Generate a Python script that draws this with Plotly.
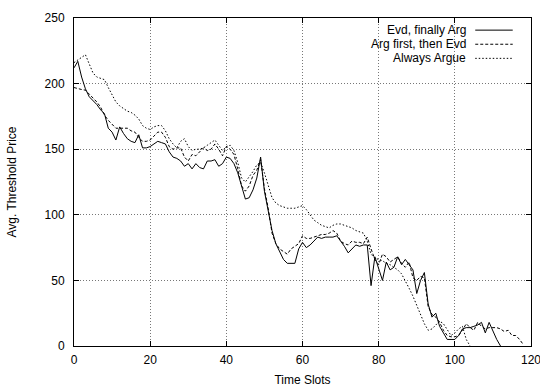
import plotly.graph_objects as go

# Average threshold price per time slot for three negotiation strategies
evd_x = list(range(0, 113))
evd_y = [212, 217, 205, 196, 190, 187, 184, 180, 177, 166,
         163, 157, 167, 162, 158, 156, 155, 161, 151, 151,
         152, 154, 156, 155, 154, 148, 144, 143, 141, 137,
         139, 135, 139, 136, 135, 141, 141, 142, 137, 139,
         144, 143, 139, 132, 122, 112, 113, 119, 128, 144,
         118, 102, 88, 78, 72, 66, 63, 63, 63, 74,
         79, 75, 77, 80, 83, 82, 83, 83, 83, 84,
         80, 76, 71, 74, 77, 76, 77, 77, 46, 68,
         58, 50, 64, 58, 60, 68, 62, 66, 62, 58,
         40, 50, 56, 32, 22, 25, 15, 10, 5, 5,
         5, 8, 13, 14, 14, 15, 16, 18, 10, 18,
         11, 5, 0]

arg_first_x = list(range(0, 119))
arg_first_y = [197, 196, 195.5, 195, 192, 189, 186, 182, 176, 172,
               169, 166, 166, 166, 166, 164, 163, 159, 156, 156,
               157, 160, 163, 163, 159, 152, 150, 151, 151, 144,
               141, 146, 145, 148, 151, 149, 150, 154, 150, 145,
               152, 150, 146, 135, 122, 118, 122, 130, 134, 142,
               120, 105, 86, 78, 74, 72, 70, 74, 76, 78,
               84, 82, 82, 83, 84, 85, 85, 86, 88, 86,
               80, 78, 77, 80, 79, 79, 78, 83, 74, 66,
               62, 70, 68, 64, 66, 68, 63, 60, 64, 52,
               50, 53, 52, 30, 24, 22, 18, 12, 8, 7,
               7, 8, 12, 17, 14, 12, 18, 15, 13, 14,
               14, 14, 13, 11, 12, 8, 8, 5, 1]

always_x = list(range(0, 105))
always_y = [216, 218, 220, 222, 215, 208, 205, 204, 203, 197,
            191, 186, 183, 181, 179, 178, 176, 173, 168, 166,
            165, 167, 168, 168, 164, 158, 154, 151, 156, 158,
            152, 149, 150, 150, 151, 153, 155, 157, 153, 149,
            152, 153, 149, 140, 128, 125, 129, 133, 138, 140,
            132, 122, 113, 109, 107, 106, 105, 105, 105, 106,
            107, 104, 100, 96, 94, 92, 91, 90, 92, 93,
            93, 92, 91, 90, 88, 87, 86, 80, 70, 67,
            66, 65, 63, 62, 60, 58, 55, 50, 44, 38,
            31, 24, 17, 12, 13, 16, 19, 17, 12, 8,
            10, 13, 15, 5, 0]

series_names = ["Evd, finally Arg", "Arg first, then Evd", "Always Argue"]
series_dash = ["solid", "3px,2px", "1.5px,2px"]

x_ticks = [0, 20, 40, 60, 80, 100, 120]
y_ticks = [0, 50, 100, 150, 200, 250]

FONT = "Liberation Sans, Arial, Helvetica, sans-serif"

fig = go.Figure()
for name, xs, ys, dash in zip(series_names,
                              [evd_x, arg_first_x, always_x],
                              [evd_y, arg_first_y, always_y],
                              series_dash):
    fig.add_trace(go.Scatter(x=xs, y=ys, mode="lines", name=name,
                             line=dict(color="black", width=1, dash=dash),
                             showlegend=False))

# Key in the upper right: right-aligned text followed by a line sample
key_rows = [0.963, 0.92, 0.877]
for name, dash, yk in zip(series_names, series_dash, key_rows):
    fig.add_annotation(xref="paper", yref="paper", x=0.862, y=yk,
                       text=name, showarrow=False, xanchor="right",
                       yanchor="middle",
                       font=dict(family=FONT, size=12, color="black"))
    fig.add_shape(type="line", xref="paper", yref="paper",
                  x0=0.878, x1=0.96, y0=yk, y1=yk,
                  line=dict(color="black", width=1, dash=dash))

axis_common = dict(
    showline=True, linecolor="black", linewidth=1, mirror="allticks",
    ticks="inside", ticklen=5, tickcolor="black", tickwidth=1,
    showgrid=True, gridcolor="#777777", gridwidth=1, griddash="1px,2px",
    zeroline=False, tickfont=dict(family=FONT, size=12, color="black"),
    ticklabeloverflow="allow", automargin=False,
)

fig.update_xaxes(range=[0, 120], tickvals=x_ticks, ticklabelstandoff=3,
                 title=dict(text="Time Slots", standoff=9,
                            font=dict(family=FONT, size=12, color="black")),
                 **axis_common)
fig.update_yaxes(range=[0, 250], tickvals=y_ticks, ticklabelstandoff=6,
                 title=dict(text="Avg. Threshold Price", standoff=25,
                            font=dict(family=FONT, size=12, color="black")),
                 **axis_common)

fig.update_layout(
    width=540, height=387,
    margin=dict(l=74, r=9, t=18, b=41),
    paper_bgcolor="white", plot_bgcolor="white",
    font=dict(family=FONT, size=12, color="black"),
)

fig.write_html("out.html")
